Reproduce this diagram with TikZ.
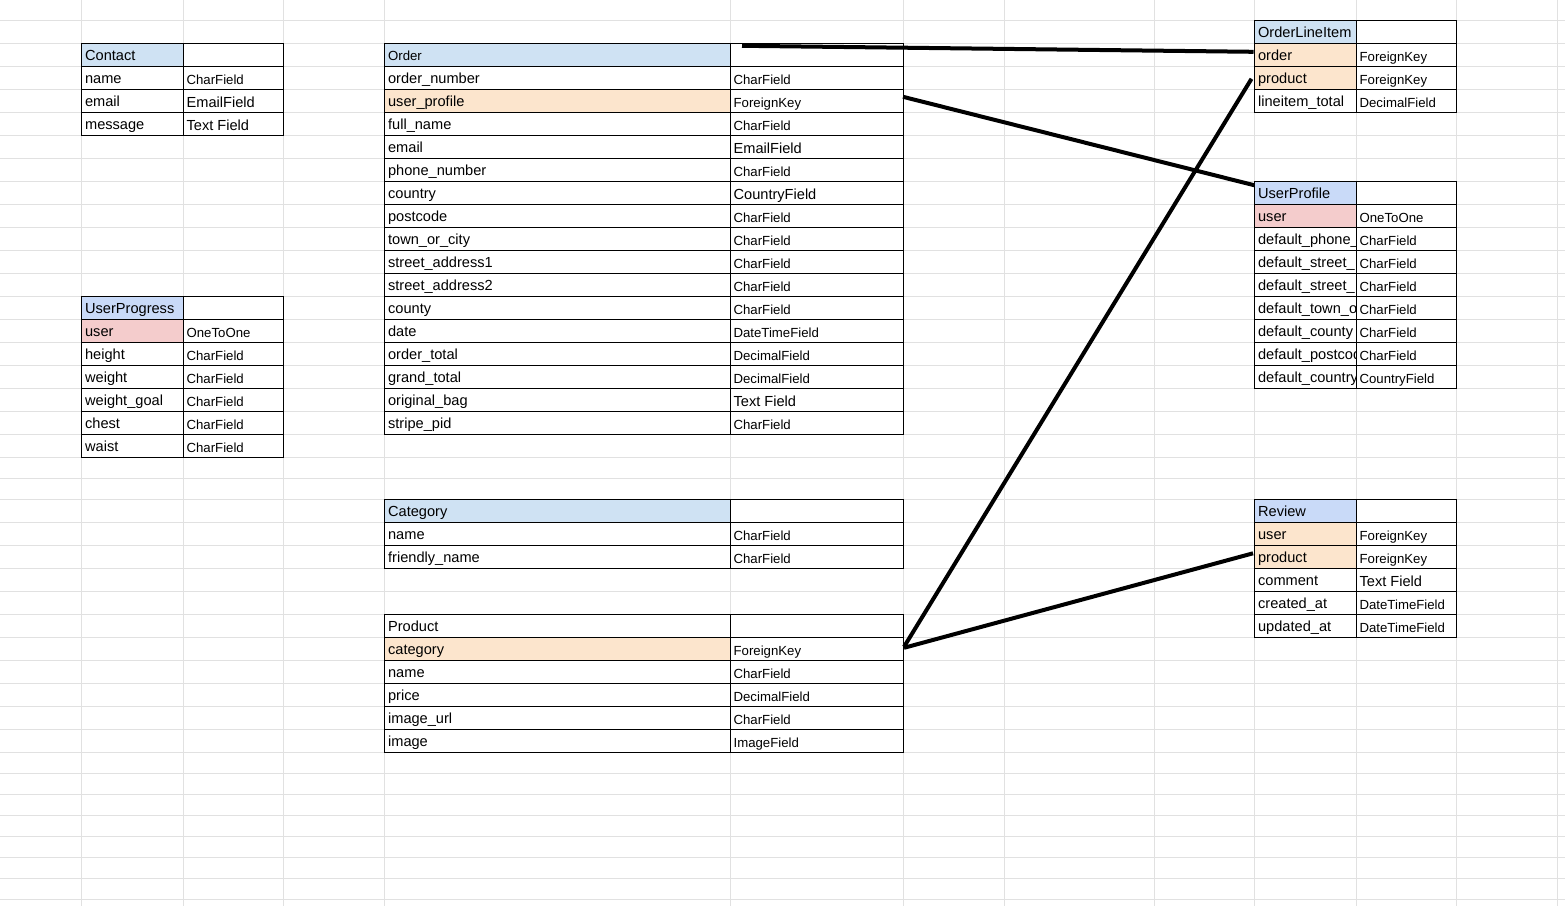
\documentclass[tikz,border=0pt]{standalone}
\usepackage{fontspec}
\setmainfont{Liberation Sans}
\usetikzlibrary{calc}
\definecolor{gridc}{HTML}{E1E1E1}
\definecolor{hdrA}{HTML}{CFE2F3}
\definecolor{hdrB}{HTML}{C9DAF8}
\definecolor{fkc}{HTML}{FCE5CD}
\definecolor{ooc}{HTML}{F4CCCC}
\newcommand\tN{\fontsize{14.6}{16}\selectfont}
\newcommand\tS{\fontsize{13.2}{15}\selectfont}
\newcommand\tL{\fontsize{14.6}{16}\selectfont}
\tikzset{
  cellbox/.style={draw=black, line width=1pt, rectangle, inner sep=0pt, outer sep=0pt, minimum height=23pt},
  txt/.style={anchor=base west, inner sep=0pt, outer sep=0pt, text=black},
  conn/.style={draw=black, line width=4pt},
  gridline/.style={draw=gridc, line width=1pt}
}
\newcommand\mktable[9]{%
  \pgfmathsetmacro\wa{#3-#2}%
  \pgfmathsetmacro\wb{#4-#3}%
  \node[cellbox, fill=#6, minimum width=\wa pt, anchor=north west] (#1-0-n) at (#2,#5) {};
  \node[txt, font=#7] (#1-0-nt) at ([shift={(3.6,-6)}]#1-0-n.south west) {#8};
  \node[cellbox, fill=white, minimum width=\wb pt, anchor=north west] (#1-0-t) at (#3,#5) {};
  \foreach [count=\i] \nm/\ty/\fc/\fs in {#9} {
    \pgfmathsetmacro\yt{#5+23*\i}
    \node[cellbox, fill=\fc, minimum width=\wa pt, anchor=north west] (#1-\i-n) at (#2,\yt) {};
    \begin{scope}
      \clip (#1-\i-n.south west) rectangle (#1-\i-n.north east);
      \node[txt, font=\tN] (#1-\i-nt) at ([shift={(3.6,-6)}]#1-\i-n.south west) {\nm};
    \end{scope}
    \node[cellbox, fill=white, minimum width=\wb pt, anchor=north west] (#1-\i-t) at (#3,\yt) {};
    \node[txt, font=\fs] (#1-\i-tt) at ([shift={(3.6,-5)}]#1-\i-t.south west) {\ty};
  }%
}
\begin{document}
\begin{tikzpicture}[x=1pt,y=-1pt]
\useasboundingbox (0,0) rectangle (1565,906);
\fill[white] (0,0) rectangle (1565,906);
% spreadsheet grid
\foreach \gx in {81.5,183,283.5,384.5,730,903,1004,1154,1254.5,1356,1456.5,1557}
  \draw[gridline] (\gx,0) -- (\gx,906);
\foreach \k in {0,...,19}
  \draw[gridline] (0,20.3+23*\k) -- (1565,20.3+23*\k);
\draw[gridline] (0,478.3) -- (1565,478.3);
\foreach \k in {0,...,11}
  \draw[gridline] (0,499.3+23*\k) -- (1565,499.3+23*\k);
\foreach \k in {0,...,6}
  \draw[gridline] (0,773.3+21*\k) -- (1565,773.3+21*\k);

% Contact
\mktable{con}{81.5}{183}{283.5}{43.3}{hdrA}{\tN}{Contact}{
  name/CharField/white/\tS,
  email/EmailField/white/\tL,
  message/Text Field/white/\tL}

% UserProgress
\mktable{upg}{81.5}{183}{283.5}{296.3}{hdrB}{\tN}{UserProgress}{
  user/OneToOne/ooc/\tS,
  height/CharField/white/\tS,
  weight/CharField/white/\tS,
  weight\_goal/CharField/white/\tS,
  chest/CharField/white/\tS,
  waist/CharField/white/\tS}

% Order
\mktable{ord}{384.5}{730}{903}{43.3}{hdrA}{\tS}{Order}{
  order\_number/CharField/white/\tS,
  user\_profile/ForeignKey/fkc/\tS,
  full\_name/CharField/white/\tS,
  email/EmailField/white/\tL,
  phone\_number/CharField/white/\tS,
  country/CountryField/white/\tL,
  postcode/CharField/white/\tS,
  town\_or\_city/CharField/white/\tS,
  street\_address1/CharField/white/\tS,
  street\_address2/CharField/white/\tS,
  county/CharField/white/\tS,
  date/DateTimeField/white/\tS,
  order\_total/DecimalField/white/\tS,
  grand\_total/DecimalField/white/\tS,
  original\_bag/Text Field/white/\tL,
  stripe\_pid/CharField/white/\tS}

% Category
\mktable{cat}{384.5}{730}{903}{499.3}{hdrA}{\tN}{Category}{
  name/CharField/white/\tS,
  friendly\_name/CharField/white/\tS}

% Product
\mktable{prod}{384.5}{730}{903}{614.3}{white}{\tN}{Product}{
  category/ForeignKey/fkc/\tS,
  name/CharField/white/\tS,
  price/DecimalField/white/\tS,
  image\_url/CharField/white/\tS,
  image/ImageField/white/\tS}

% OrderLineItem
\mktable{oli}{1254.5}{1356}{1456.5}{20.3}{hdrA}{\tN}{OrderLineItem}{
  order/ForeignKey/fkc/\tS,
  product/ForeignKey/fkc/\tS,
  lineitem\_total/DecimalField/white/\tS}

% UserProfile (names cut off by the cell edge, as printed)
\mktable{up}{1254.5}{1356}{1456.5}{181.3}{hdrB}{\tN}{UserProfile}{
  user/OneToOne/ooc/\tS,
  default\_phone\_/CharField/white/\tS,
  default\_street\_/CharField/white/\tS,
  default\_street\_/CharField/white/\tS,
  default\_town\_o/CharField/white/\tS,
  default\_county/CharField/white/\tS,
  default\_postcod/CharField/white/\tS,
  default\_country/CountryField/white/\tS}

% Review
\mktable{rev}{1254.5}{1356}{1456.5}{499.3}{hdrB}{\tN}{Review}{
  user/ForeignKey/fkc/\tS,
  product/ForeignKey/fkc/\tS,
  comment/Text Field/white/\tL,
  created\_at/DateTimeField/white/\tS,
  updated\_at/DateTimeField/white/\tS}

% connectors
\draw[conn] ([shift={(12,2.5)}]ord-0-t.north west) -- ([shift={(-1,-3)}]oli-1-n.west);
\draw[conn] ([shift={(0,-4)}]ord-2-t.east) -- ([shift={(0,4)}]up-0-n.north west);
\draw[conn] ([shift={(1,-2)}]prod-1-t.east) -- ([shift={(-3,1)}]oli-2-n.west);
\draw[conn] ([shift={(1,-1)}]prod-1-t.east) -- ([shift={(-1.5,-3.5)}]rev-2-n.west);
\end{tikzpicture}
\end{document}
